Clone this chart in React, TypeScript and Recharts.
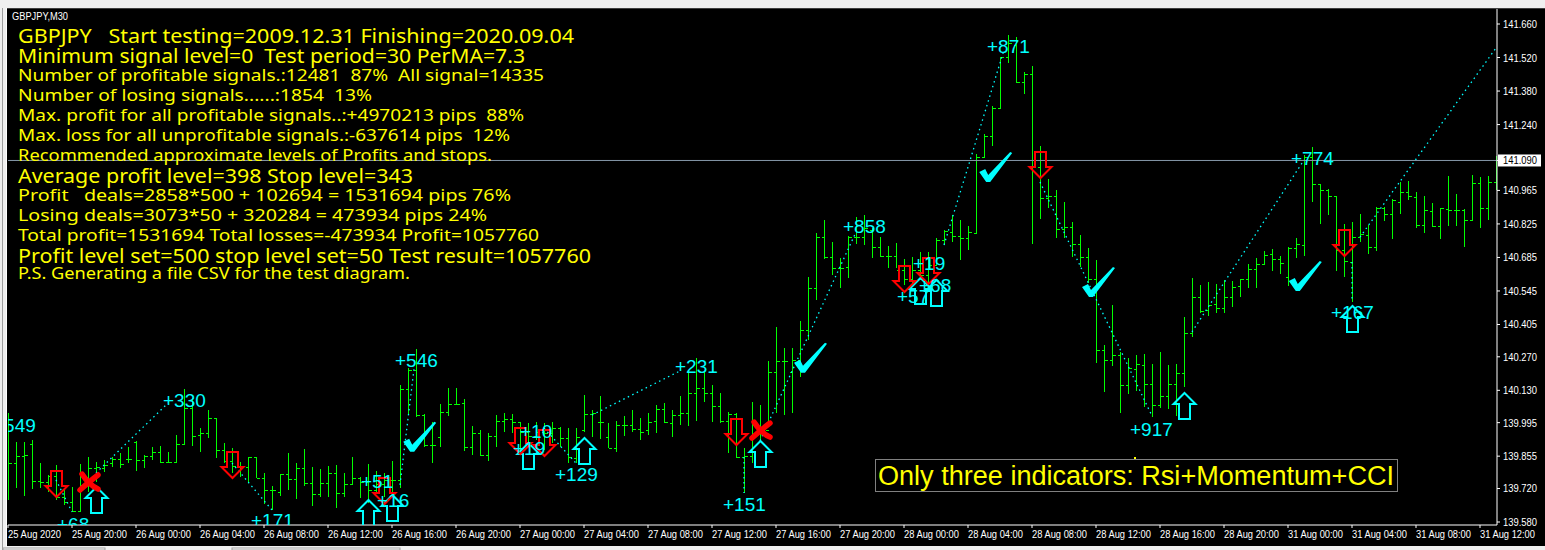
import { Bar, ComposedChart, ReferenceDot, ReferenceLine, XAxis, YAxis } from 'recharts';

const GREEN = '#00ff00';
const CYAN = '#00ffff';
const RED = '#ff0000';
const YELLOW = '#ffff00';
const UI_FONT = '"Noto Sans", sans-serif';
const LABEL_FONT = '"Liberation Sans", Arial, sans-serif';

// GBPJPY M30 bars
const opens = [
  139.797, 139.826, 139.856, 139.906, 139.751, 139.747, 139.772, 139.685, 139.664, 139.626,
  139.735, 139.806, 139.806, 139.826, 139.843, 139.843, 139.915, 139.839, 139.856, 139.873,
  139.831, 139.831, 139.906, 140.056, 139.943, 139.952, 140.014, 139.881, 139.835, 139.814,
  139.81, 139.851, 139.764, 139.714, 139.705, 139.781, 139.76, 139.806, 139.743, 139.697,
  139.743, 139.785, 139.701, 139.739, 139.764, 139.747, 139.714, 139.739, 139.756, 139.756,
  140.135, 140.215, 140.027, 139.902, 139.935, 140.04, 140.073, 140.077, 139.893, 139.952,
  139.86, 139.939, 140.002, 140.01, 139.998, 139.956, 139.939, 139.956, 139.952, 139.972,
  139.931, 139.847, 139.964, 140.031, 139.998, 139.935, 139.889, 139.985, 139.985, 139.968,
  139.964, 140.002, 140.052, 139.993, 140.027, 140.035, 140.119, 140.14, 140.119, 140.065,
  140.002, 140.031, 139.851, 139.856, 139.964, 139.964, 140.207, 140.252, 140.207, 140.257,
  140.382, 140.558, 140.77, 140.687, 140.641, 140.645, 140.77, 140.77, 140.8, 140.729,
  140.691, 140.691, 140.633, 140.595, 140.633, 140.612, 140.653, 140.758, 140.791, 140.775,
  140.766, 140.787, 141.104, 141.192, 141.309, 141.522, 141.572, 141.418, 141.451, 141.063,
  140.933, 140.942, 140.804, 140.812, 140.741, 140.687, 140.595, 140.299, 140.257, 140.278,
  140.152, 140.219, 140.236, 140.156, 140.069, 140.106, 140.156, 140.202, 140.369, 140.52,
  140.466, 140.491, 140.474, 140.52, 140.566, 140.595, 140.637, 140.658, 140.699, 140.678,
  140.604, 140.725, 140.737, 141.104, 140.991, 140.967, 140.942, 140.716, 140.666, 140.77,
  140.779, 140.729, 140.892, 140.866, 140.917, 140.958, 140.938, 140.82, 140.879, 140.816,
  140.887, 140.883, 140.883, 140.841, 140.996, 140.892, 141.0,
];
const highs = [
  140.035, 139.915, 139.915, 139.923, 139.826, 139.776, 139.818, 139.722, 139.726, 139.822,
  139.851, 139.831, 139.839, 139.851, 139.868, 139.893, 139.919, 139.86, 139.893, 139.898,
  139.873, 139.943, 140.135, 140.098, 139.972, 140.048, 140.014, 139.91, 139.889, 139.831,
  139.851, 139.851, 139.785, 139.73, 139.781, 139.868, 139.826, 139.885, 139.81, 139.801,
  139.814, 139.818, 139.785, 139.851, 139.768, 139.822, 139.793, 139.785, 139.835, 140.152,
  140.223, 140.303, 140.031, 139.998, 140.073, 140.14, 140.14, 140.094, 139.981, 139.964,
  139.952, 140.027, 140.035, 140.031, 139.998, 139.993, 139.998, 139.993, 139.998, 139.977,
  139.972, 139.972, 140.111, 140.048, 140.106, 139.993, 140.002, 140.023, 140.048, 140.014,
  140.035, 140.069, 140.077, 140.048, 140.106, 140.215, 140.265, 140.207, 140.152, 140.119,
  140.04, 140.035, 139.889, 140.081, 140.069, 140.252, 140.395, 140.307, 140.307, 140.42,
  140.604, 140.787, 140.841, 140.75, 140.683, 140.775, 140.854, 140.862, 140.808, 140.77,
  140.733, 140.745, 140.678, 140.687, 140.708, 140.708, 140.766, 140.8, 140.862, 140.841,
  140.816, 141.117, 141.2, 141.317, 141.522, 141.614, 141.605, 141.459, 141.484, 141.15,
  141.012, 140.967, 140.917, 140.833, 140.779, 140.725, 140.674, 140.319, 140.486, 140.29,
  140.265, 140.278, 140.282, 140.24, 140.29, 140.236, 140.24, 140.436, 140.6, 140.57,
  140.583, 140.574, 140.591, 140.587, 140.595, 140.658, 140.683, 140.712, 140.72, 140.691,
  140.729, 140.766, 141.113, 141.146, 140.991, 140.971, 140.942, 140.825, 140.833, 140.866,
  140.82, 140.896, 140.896, 140.929, 141.0, 141.004, 140.958, 140.942, 140.913, 140.892,
  141.025, 140.95, 140.887, 141.029, 141.021, 141.025, 141.109,
];
const lows = [
  139.672, 139.722, 139.689, 139.718, 139.722, 139.705, 139.672, 139.651, 139.622, 139.626,
  139.705, 139.747, 139.789, 139.81, 139.806, 139.826, 139.793, 139.806, 139.839, 139.826,
  139.826, 139.831, 139.906, 139.898, 139.873, 139.931, 139.847, 139.826, 139.785, 139.768,
  139.743, 139.764, 139.655, 139.63, 139.689, 139.714, 139.676, 139.73, 139.647, 139.685,
  139.685, 139.639, 139.685, 139.735, 139.681, 139.66, 139.701, 139.685, 139.685, 139.722,
  140.027, 140.019, 139.893, 139.826, 139.893, 140.023, 140.069, 139.877, 139.86, 139.856,
  139.835, 139.893, 139.956, 139.952, 139.881, 139.902, 139.923, 139.881, 139.91, 139.893,
  139.826, 139.826, 139.956, 139.935, 139.927, 139.889, 139.873, 139.939, 139.956, 139.923,
  139.943, 139.952, 139.993, 139.935, 139.985, 139.981, 140.002, 140.081, 139.998, 139.993,
  139.868, 139.847, 139.701, 139.826, 139.923, 139.998, 140.035, 140.027, 140.035, 140.186,
  140.34, 140.507, 140.678, 140.612, 140.558, 140.6, 140.741, 140.737, 140.683, 140.687,
  140.641, 140.641, 140.57, 140.562, 140.591, 140.579, 140.653, 140.737, 140.75, 140.674,
  140.716, 140.783, 141.104, 141.15, 141.309, 141.497, 141.413, 141.367, 140.741, 140.845,
  140.892, 140.766, 140.766, 140.687, 140.645, 140.579, 140.244, 140.123, 140.232, 140.035,
  140.115, 140.127, 140.061, 140.019, 140.056, 140.052, 140.023, 140.144, 140.353, 140.453,
  140.441, 140.453, 140.453, 140.478, 140.52, 140.558, 140.558, 140.658, 140.629, 140.616,
  140.566, 140.683, 140.691, 140.917, 140.825, 140.862, 140.629, 140.604, 140.499, 140.75,
  140.699, 140.712, 140.837, 140.762, 140.866, 140.925, 140.808, 140.787, 140.812, 140.762,
  140.816, 140.816, 140.729, 140.837, 140.808, 140.841, 140.967,
];
const closes = [
  139.826, 139.856, 139.86, 139.751, 139.747, 139.772, 139.685, 139.664, 139.626, 139.735,
  139.806, 139.81, 139.818, 139.843, 139.822, 139.843, 139.839, 139.856, 139.873, 139.831,
  139.831, 139.906, 140.056, 139.939, 139.952, 140.014, 139.881, 139.835, 139.814, 139.81,
  139.851, 139.764, 139.714, 139.714, 139.781, 139.76, 139.806, 139.743, 139.697, 139.743,
  139.785, 139.701, 139.739, 139.764, 139.747, 139.714, 139.739, 139.756, 139.756, 140.135,
  140.215, 140.027, 139.902, 139.902, 140.04, 140.073, 140.073, 139.893, 139.952, 139.86,
  139.939, 140.002, 140.01, 139.998, 139.956, 139.939, 139.956, 139.952, 139.972, 139.931,
  139.851, 139.935, 140.031, 140.035, 139.998, 139.889, 139.985, 139.985, 139.968, 139.956,
  139.998, 140.052, 139.998, 140.027, 140.035, 140.119, 140.14, 140.119, 140.065, 140.002,
  140.031, 139.851, 139.856, 140.006, 139.964, 140.207, 140.252, 140.252, 140.257, 140.382,
  140.558, 140.77, 140.687, 140.641, 140.641, 140.77, 140.77, 140.808, 140.729, 140.691,
  140.691, 140.633, 140.595, 140.633, 140.612, 140.653, 140.758, 140.796, 140.775, 140.766,
  140.791, 141.104, 141.192, 141.309, 141.522, 141.58, 141.418, 141.451, 141.063, 140.933,
  140.942, 140.804, 140.812, 140.741, 140.687, 140.595, 140.299, 140.257, 140.278, 140.152,
  140.223, 140.24, 140.156, 140.069, 140.106, 140.156, 140.202, 140.369, 140.52, 140.462,
  140.486, 140.474, 140.52, 140.562, 140.595, 140.637, 140.658, 140.695, 140.678, 140.662,
  140.725, 140.741, 141.104, 140.991, 140.967, 140.942, 140.716, 140.67, 140.77, 140.783,
  140.729, 140.892, 140.866, 140.925, 140.958, 140.942, 140.82, 140.883, 140.816, 140.892,
  140.883, 140.883, 140.841, 140.996, 140.892, 141.0, 141.092,
];

const priceTicks = [
  141.66, 141.52, 141.38, 141.24, 141.09, 140.965, 140.825, 140.685, 140.545, 140.405, 140.27, 140.13, 139.995,
  139.855, 139.72, 139.58,
];
const LAST_PRICE = 141.09;

const timeLabels = [
  '25 Aug 2020', '25 Aug 20:00', '26 Aug 00:00', '26 Aug 04:00', '26 Aug 08:00', '26 Aug 12:00',
  '26 Aug 16:00', '26 Aug 20:00', '27 Aug 00:00', '27 Aug 04:00', '27 Aug 08:00', '27 Aug 12:00',
  '27 Aug 16:00', '27 Aug 20:00', '28 Aug 00:00', '28 Aug 04:00', '28 Aug 08:00', '28 Aug 12:00',
  '28 Aug 16:00', '28 Aug 20:00', '31 Aug 00:00', '31 Aug 04:00', '31 Aug 08:00', '31 Aug 12:00',
];
const BARS_PER_LABEL = 8;
const timeTicks = timeLabels.map((_, i) => i * BARS_PER_LABEL);

// trade signals: [bar index, price]
const upArrows = [
  [11, 139.726], [45, 139.672], [48, 139.693], [65, 139.91], [72, 139.931],
  [94, 139.919], [114, 140.6], [116, 140.591], [147, 140.119], [168, 140.482],
];
const downArrows = [
  [6, 139.793], [28, 139.873], [47, 139.764], [64, 139.972], [67, 139.964],
  [91, 140.01], [112, 140.649], [115, 140.683], [129, 141.125], [167, 140.8],
];
const checkMarks = [
  [50.4, 139.873], [99.25, 140.203], [122.4, 141.0], [135.25, 140.52], [161.1, 140.545],
];
const crossMarks = [
  [10.125, 139.747], [94.125, 139.964],
];

const signalTexts = [
  '+549', '+330', '+68', '+171', '+51', '+16', '+546', '+10', '+19', '+129', '+231',
  '+151', '+858', '+57', '+19', '+68', '+871', '+917', '+774', '+167',
];
const signalBars = [
  -1.875, 19.375, 6.125, 30.375, 44.125, 46.125, 48.375, 64, 63.125, 68.375, 83.375,
  89.375, 104.375, 111.125, 113.125, 113.875, 122.375, 140.25, 160.375, 165.375,
];
const signalPrices = [
  139.956, 140.06, 139.542, 139.559, 139.722, 139.643, 140.227, 139.931, 139.86, 139.751, 140.202,
  139.626, 140.787, 140.495, 140.633, 140.541, 141.539, 139.939, 141.071, 140.428,
];

// dotted trade lines: [bar, price, bar, price]
const tradeLines = [
  [6, 139.756, 8, 139.622],
  [11, 139.785, 20, 140.077],
  [28, 139.826, 33, 139.63],
  [49, 139.735, 50.75, 140.219],
  [67, 139.972, 71, 139.826],
  [73, 140.027, 84, 140.211],
  [92, 139.851, 92, 139.701],
  [94, 139.919, 106, 140.791],
  [117, 140.737, 124.5, 141.551],
  [129, 141.0, 143, 140.023],
  [148, 140.374, 162, 141.092],
  [168, 140.666, 168, 140.499],
  [169, 140.77, 186, 141.56],
];

const reportLines = [
  'GBPJPY   Start testing=2009.12.31 Finishing=2020.09.04',
  'Minimum signal level=0  Test period=30 PerMA=7.3',
  'Number of profitable signals.:12481  87%  All signal=14335',
  'Number of losing signals......:1854  13%',
  'Max. profit for all profitable signals..:+4970213 pips  88%',
  'Max. loss for all unprofitable signals.:-637614 pips  12%',
  'Recommended approximate levels of Profits and stops.',
  'Average profit level=398 Stop level=343',
  'Profit   deals=2858*500 + 102694 = 1531694 pips 76%',
  'Losing deals=3073*50 + 320284 = 473934 pips 24%',
  'Total profit=1531694 Total losses=-473934 Profit=1057760',
  'Profit level set=500 stop level set=50 Test result=1057760',
  'P.S. Generating a file CSV for the test diagram.',
];
const reportBaselines = [43, 63, 81, 101, 121, 141, 161, 183, 201, 221, 241, 263, 279];
const reportWidths = [556, 507, 526, 354, 506, 492, 474, 395, 493, 469, 521, 573, 392];
const reportSizes = [19, 19, 17, 17, 17, 17, 17, 19, 17, 17, 17, 19, 17];

const bars = highs.map((high, i) => ({ t: i, open: opens[i], high, low: lows[i], close: closes[i] }));

const PLOT = { left: 8, top: 9, width: 1489, height: 516 };

function OhlcBar(props: any) {
  const { x, y, width, height, payload } = props;
  const cx = Math.round(x + width / 2) + 0.5;
  const range = payload.high - payload.low;
  const yOpen = Math.round(y + (height * (payload.high - payload.open)) / range) + 0.5;
  const yClose = Math.round(y + (height * (payload.high - payload.close)) / range) + 0.5;
  return (
    <g stroke={GREEN} strokeWidth={1} shapeRendering="crispEdges">
      <line x1={cx} x2={cx} y1={Math.round(y)} y2={Math.round(y + height)} />
      <line x1={cx - 3} x2={cx} y1={yOpen} y2={yOpen} />
      <line x1={cx} x2={cx + 3} y1={yClose} y2={yClose} />
    </g>
  );
}

function UpArrow({ cx, cy }: any) {
  const x = Math.round(cx) + 0.5;
  const y = Math.round(cy);
  const pts = [
    [x, y], [x + 11, y + 11], [x + 5.5, y + 11], [x + 5.5, y + 26],
    [x - 5.5, y + 26], [x - 5.5, y + 11], [x - 11, y + 11],
  ];
  return <polygon points={pts.join(' ')} fill="none" stroke={CYAN} strokeWidth={2} clipPath="url(#plot-area)" />;
}

function DownArrow({ cx, cy }: any) {
  const x = Math.round(cx) + 0.5;
  const y = Math.round(cy);
  const pts = [
    [x - 5.5, y], [x + 5.5, y], [x + 5.5, y + 15], [x + 11, y + 15],
    [x, y + 26], [x - 11, y + 15], [x - 5.5, y + 15],
  ];
  return <polygon points={pts.join(' ')} fill="none" stroke={RED} strokeWidth={2} />;
}

function CheckMark({ cx, cy }: any) {
  const pts = [[-8, -10], [-2, -13], [1, -7], [23, -30], [25, -29], [3, 0], [-1, 0]];
  return <polygon points={pts.map(([a, b]) => `${cx + a},${cy + b}`).join(' ')} fill={CYAN} />;
}

function CrossMark({ cx, cy }: any) {
  return (
    <g stroke={RED} strokeWidth={5.5} strokeLinecap="round" fill="none">
      <path d={`M${cx - 7} ${cy - 8} Q${cx} ${cy + 3} ${cx + 9} ${cy + 7}`} />
      <path d={`M${cx - 9} ${cy + 8} Q${cx + 1} ${cy - 1} ${cx + 9} ${cy - 7}`} />
    </g>
  );
}

function signalLabel(text: string) {
  return ({ cx, cy }: any) => (
    <text x={cx} y={cy} fill={CYAN} fontFamily={LABEL_FONT} fontSize={19} clipPath="url(#plot-area)">
      {text}
    </text>
  );
}

function PriceTick({ x, y, payload }: any) {
  const isLast = payload.value === LAST_PRICE;
  return (
    <g>
      {isLast && <rect x={x - 5} y={y - 6} width={43} height={12} fill="#fff" />}
      <text
        x={x}
        y={y + 4}
        fill={isLast ? '#000' : '#fff'}
        fontFamily={LABEL_FONT}
        fontSize={10}
        textLength={34}
        lengthAdjust="spacingAndGlyphs"
      >
        {payload.value.toFixed(3)}
      </text>
    </g>
  );
}

function TimeTick({ x, y, payload }: any) {
  const label = timeLabels[payload.value / BARS_PER_LABEL];
  return (
    <text
      x={x}
      y={y + 10}
      fill="#fff"
      fontFamily={LABEL_FONT}
      fontSize={10}
      textLength={label.endsWith('2020') ? 53 : 55}
      lengthAdjust="spacingAndGlyphs"
    >
      {label}
    </text>
  );
}

export default function App() {
  return (
    <div style={{ position: 'absolute', left: 0, top: 0, width: 1545, height: 550, overflow: 'hidden', background: '#f0f0f0' }}>
      <div style={{ position: 'absolute', left: 7, top: 9, width: 1538, height: 537, background: '#000' }} />

      <div style={{ position: 'absolute', left: 0, top: 0 }}>
        <ComposedChart
          width={1545}
          height={550}
          data={bars}
          margin={{ top: PLOT.top, right: 0, bottom: 0, left: PLOT.left }}
        >
          <defs>
            <clipPath id="plot-area">
              <rect x={PLOT.left} y={PLOT.top} width={PLOT.width} height={PLOT.height} />
            </clipPath>
          </defs>
          <XAxis
            type="number"
            dataKey="t"
            domain={[0, 186.125]}
            allowDataOverflow
            ticks={timeTicks}
            interval={0}
            height={25}
            stroke="#fff"
            tickSize={3}
            tickMargin={0}
            tick={<TimeTick />}
          />
          <YAxis
            orientation="right"
            type="number"
            domain={[139.5675, 141.7227]}
            allowDataOverflow
            ticks={priceTicks}
            interval={0}
            width={48}
            stroke="#fff"
            tickSize={3}
            tickMargin={3}
            tick={<PriceTick />}
          />
          <ReferenceLine y={LAST_PRICE} stroke="#8497a8" />
          <Bar
            dataKey={(d: any) => [d.low, d.high]}
            barSize={1}
            shape={<OhlcBar />}
            isAnimationActive={false}
          />
          {tradeLines.map(([x1, y1, x2, y2], i) => (
            <ReferenceLine
              key={`trade-${i}`}
              segment={[{ x: x1, y: y1 }, { x: x2, y: y2 }]}
              stroke={CYAN}
              strokeWidth={1.3}
              strokeDasharray="1.5 3.5"
            />
          ))}
          {upArrows.map(([x, y], i) => (
            <ReferenceDot key={`up-${i}`} x={x} y={y} ifOverflow="visible" shape={UpArrow} />
          ))}
          {downArrows.map(([x, y], i) => (
            <ReferenceDot key={`down-${i}`} x={x} y={y} ifOverflow="visible" shape={DownArrow} />
          ))}
          {checkMarks.map(([x, y], i) => (
            <ReferenceDot key={`check-${i}`} x={x} y={y} ifOverflow="visible" shape={CheckMark} />
          ))}
          {crossMarks.map(([x, y], i) => (
            <ReferenceDot key={`cross-${i}`} x={x} y={y} ifOverflow="visible" shape={CrossMark} />
          ))}
          {signalTexts.map((text, i) => (
            <ReferenceDot
              key={`signal-${i}`}
              x={signalBars[i]}
              y={signalPrices[i]}
              ifOverflow="visible"
              shape={signalLabel(text)}
            />
          ))}
        </ComposedChart>
      </div>

      <svg width={1545} height={550} style={{ position: 'absolute', left: 0, top: 0, pointerEvents: 'none' }}>
        <rect x={0} y={0} width={7} height={550} fill="#f0f0f0" />
        <rect x={6} y={8} width={1} height={539} fill="#fff" />
        <rect x={2} y={8} width={1} height={542} fill="#a0a0a0" />
        <rect x={7} y={8} width={1538} height={1} fill="#404040" />
        <rect x={3} y={548} width={102} height={2} fill="#fff" stroke="#a0a0a0" />
        <rect x={232} y={548} width={168} height={2} fill="#fff" stroke="#a0a0a0" />

        <text x={12} y={20} fill="#fff" fontFamily={LABEL_FONT} fontSize={10} textLength={56} lengthAdjust="spacingAndGlyphs">
          GBPJPY,M30
        </text>

        {reportLines.map((line, i) => (
          <text
            key={i}
            x={18}
            y={reportBaselines[i]}
            fill={YELLOW}
            fontFamily={UI_FONT}
            fontSize={reportSizes[i]}
            textLength={reportWidths[i]}
            lengthAdjust="spacingAndGlyphs"
            xmlSpace="preserve"
          >
            {line}
          </text>
        ))}

        <rect x={875.5} y={459.5} width={522} height={32} fill="#000" stroke="#808080" />
        <text x={878} y={485} fill={YELLOW} fontFamily={LABEL_FONT} fontSize={27} textLength={516} lengthAdjust="spacingAndGlyphs">
          Only three indicators: Rsi+Momentum+CCI
        </text>
        <rect x={1134} y={457} width={2} height={2} fill={YELLOW} />
      </svg>
    </div>
  );
}
